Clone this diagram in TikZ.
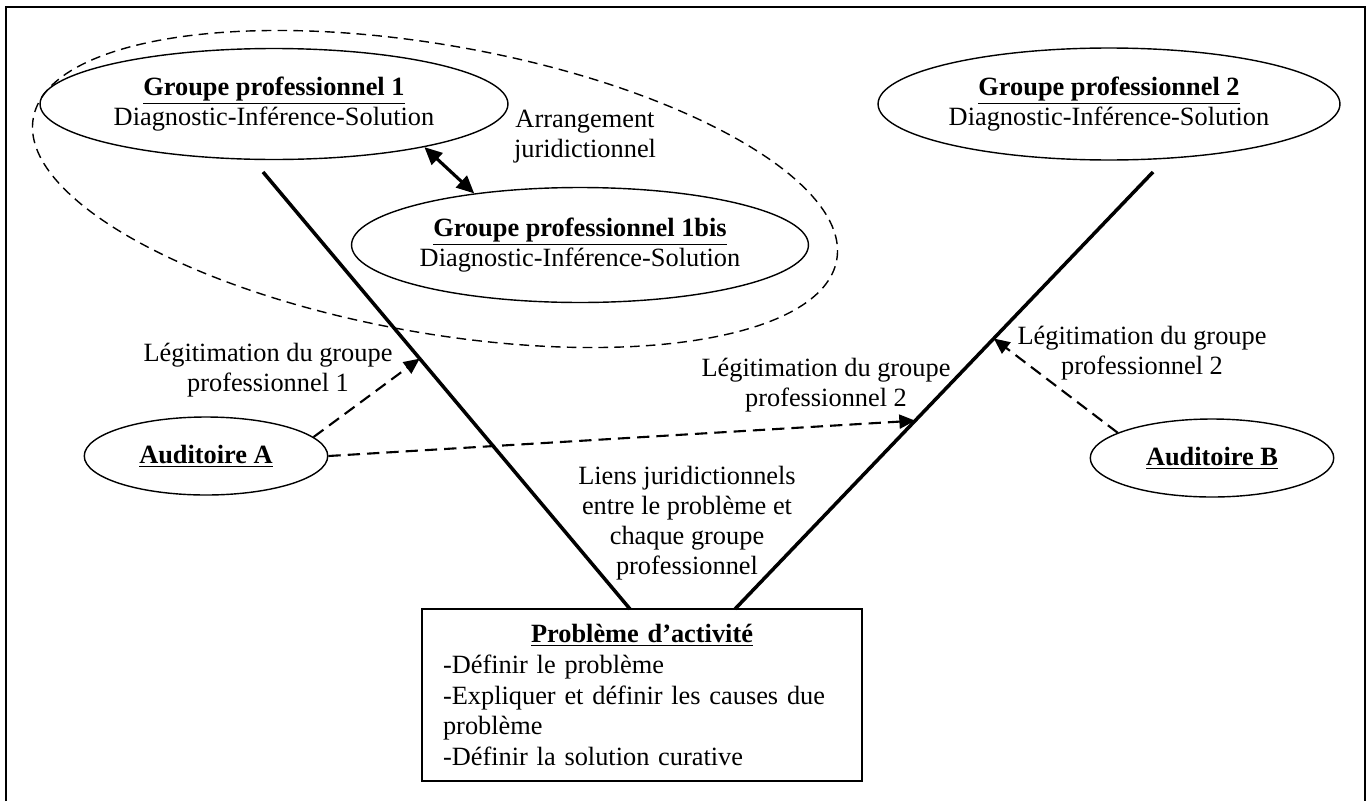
\documentclass[tikz,border=0pt]{standalone}
\usepackage{fontspec}
\setmainfont{Liberation Serif}
\usetikzlibrary{shapes.geometric, positioning, arrows.meta}

\begin{document}
\begin{tikzpicture}[x=0.02cm, y=-0.02cm,
    every node/.style={font=\fontsize{15}{17}\selectfont},
    grp/.style={draw, ellipse, line width=0.8pt, inner sep=0pt, align=center},
    aud/.style={draw, ellipse, line width=0.8pt, inner sep=0pt,
      minimum width=4.87cm, minimum height=1.56cm},
    jambe/.style={line width=2pt},
    legit/.style={line width=1.2pt, dash pattern=on 7pt off 4pt,
      -{Triangle[length=9pt, width=8pt]}},
    lbl/.style={align=center}]
  \useasboundingbox (0,0) rectangle (1371,801);
  \draw [line width=1.1pt] (6,801) -- (6,7) -- (1365,7) -- (1365,801);

  % groupes professionnels
  \node [grp, minimum width=9.36cm, minimum height=2.22cm] (gp1) at (274,104)
  {\underline{\textbf{Groupe professionnel 1}}\\Diagnostic-Inférence-Solution};
  \node [grp, minimum width=9.14cm, minimum height=2.3cm] (gp1b) at (580,245)
  {\underline{\textbf{Groupe professionnel 1bis}}\\Diagnostic-Inférence-Solution};
  \node [grp, minimum width=9.24cm, minimum height=2.24cm] (gp2) at (1109,104)
  {\underline{\textbf{Groupe professionnel 2}}\\Diagnostic-Inférence-Solution};
  \node [draw, ellipse, line width=0.8pt, dash pattern=on 5.5pt off 3.5pt,
  rotate=-10, inner sep=0pt, minimum width=16.32cm, minimum height=5.76cm]
  (zone) at (435,189) {};

  \node [lbl] (arrg) at (585,137) {Arrangement\\juridictionnel};
  \draw [line width=1.8pt, {Triangle[length=10pt, width=9pt]}-{Triangle[length=10pt, width=9pt]}]
  (gp1.-16) -- (gp1b.154);

  % auditoires
  \node [aud] (audA) at (206,456) {\underline{\textbf{Auditoire A}}};
  \node [aud] (audB) at (1212,458) {\underline{\textbf{Auditoire B}}};

  % probleme
  \node [draw, line width=0.8pt, text width=7.96cm, inner xsep=0.42cm,
  inner ysep=0pt, minimum height=3.44cm, align=left,
  font=\fontsize{15}{17.6}\selectfont] (pb) at (642,695)
  {\makebox[7.96cm]{\underline{\textbf{Problème d’activité}}}\\
    -Définir le problème\\
    -Expliquer et définir les causes due\\
    problème\\
    -Définir la solution curative};

  % liens juridictionnels
  \coordinate (haut1) at (263,172);
  \coordinate (haut2) at (1153,172);
  \coordinate (bas1) at (630,609);
  \coordinate (bas2) at (735,609);
  \draw [jambe] (haut1) -- coordinate [pos=0.427] (cible1) (bas1);
  \draw [jambe] (haut2) -- coordinate [pos=0.381] (cible3)
  coordinate [pos=0.569] (cible2) (bas2);
  \node [lbl] (liens) at (687,523)
  {Liens juridictionnels\\entre le problème et\\chaque groupe\\professionnel};

  % legitimations
  \draw [legit] (audA.10) -- (cible1);
  \draw [legit] (audA.east) -- (cible2);
  \draw [legit] (audB.165) -- (cible3);
  \node [lbl] (leg1) at (268,370) {Légitimation du groupe\\professionnel 1};
  \node [lbl] (leg2) at (826,385) {Légitimation du groupe\\professionnel 2};
  \node [lbl] (leg3) at (1142,353) {Légitimation du groupe\\professionnel 2};
\end{tikzpicture}
\end{document}
